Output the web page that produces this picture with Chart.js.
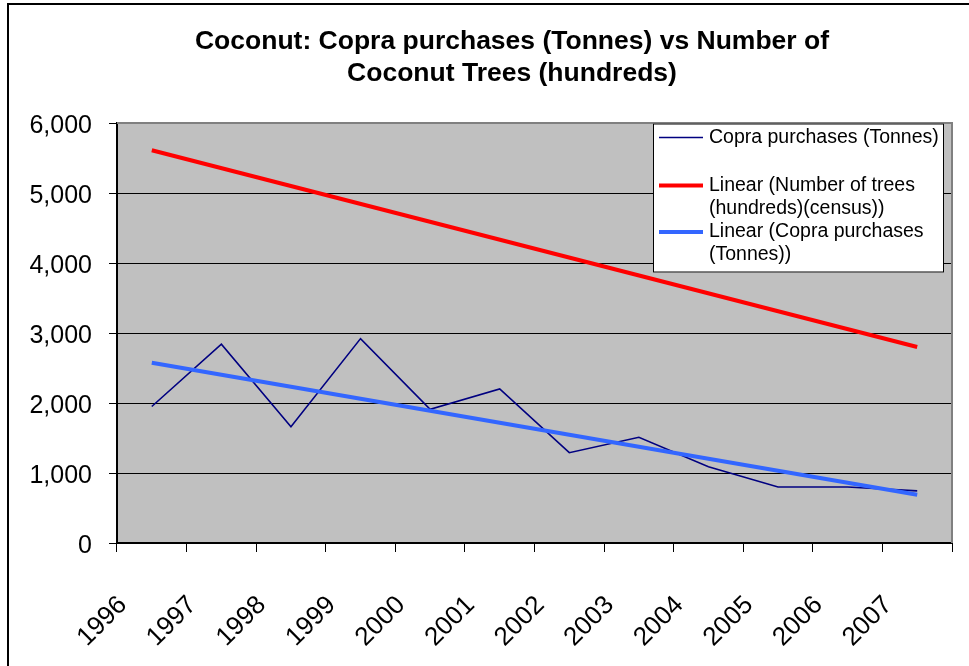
<!DOCTYPE html>
<html>
<head>
<meta charset="utf-8">
<script src="https://cdn.jsdelivr.net/npm/chart.js@4/dist/chart.umd.min.js"></script>
<style>
  html, body { margin: 0; padding: 0; background: #ffffff; }
  canvas { display: block; }
</style>
</head>
<body>
<canvas id="chart" width="969" height="666"></canvas>
<script>
// Years on the category axis
const years = ['1996', '1997', '1998', '1999', '2000', '2001', '2002', '2003', '2004', '2005', '2006', '2007'];

// Copra purchases, tonnes
const copraPurchases = [1950, 2840, 1660, 2920, 1910, 2200, 1290, 1510, 1090, 800, 800, 745];

// Linear trend of the census tree count (hundreds): first and last year
const treesTrend = [5610, null, null, null, null, null, null, null, null, null, null, 2800];

// Linear trend of copra purchases (tonnes): first and last year
const copraTrend = [2575, null, null, null, null, null, null, null, null, null, null, 690];

// Value axis ticks
const yTicks = [0, 1000, 2000, 3000, 4000, 5000, 6000];

const titleLines = ['Coconut: Copra purchases (Tonnes) vs Number of', 'Coconut Trees (hundreds)'];

const legendEntries = [
  { lines: ['Copra purchases (Tonnes)'], color: '#000080', width: 1.5 },
  { lines: ['Linear (Number of trees', '(hundreds)(census))'], color: '#ff0000', width: 4 },
  { lines: ['Linear (Copra purchases', '(Tonnes))'], color: '#3366ff', width: 4 }
];

const FONT = '"Liberation Sans", Arial, Helvetica, sans-serif';

// Grey plot area, its frame, the outer chart border, the title and the boxed legend
const decor = {
  id: 'decor',
  beforeDraw(chart) {
    const { ctx, chartArea: a } = chart;
    ctx.save();
    ctx.fillStyle = '#c0c0c0';
    ctx.fillRect(a.left, a.top, a.right - a.left, a.bottom - a.top);
    ctx.restore();
  },
  beforeDatasetsDraw(chart) {
    const { ctx, chartArea: a } = chart;
    ctx.save();
    ctx.strokeStyle = '#808080';
    ctx.lineWidth = 2;
    ctx.beginPath();
    ctx.moveTo(a.left, a.top);
    ctx.lineTo(a.right, a.top);
    ctx.lineTo(a.right, a.bottom);
    ctx.stroke();
    ctx.restore();
  },
  afterDraw(chart) {
    const { ctx } = chart;
    ctx.save();

    // outer border
    ctx.strokeStyle = '#000000';
    ctx.lineWidth = 2;
    ctx.beginPath();
    ctx.moveTo(8, 666);
    ctx.lineTo(8, 4);
    ctx.lineTo(969, 4);
    ctx.stroke();

    // title
    ctx.fillStyle = '#000000';
    ctx.font = 'bold 26.5px ' + FONT;
    ctx.textAlign = 'center';
    ctx.textBaseline = 'alphabetic';
    ctx.fillText(titleLines[0], 512, 49);
    ctx.fillText(titleLines[1], 512, 81);

    // legend box
    const bx = 653, by = 123.5, bw = 291, bh = 149;
    ctx.fillStyle = '#ffffff';
    ctx.fillRect(bx, by, bw, bh);
    ctx.strokeStyle = '#000000';
    ctx.lineWidth = 1;
    ctx.strokeRect(bx + 0.5, by + 0.5, bw - 1, bh - 1);

    ctx.font = '19.5px ' + FONT;
    ctx.textAlign = 'left';
    ctx.textBaseline = 'middle';
    const rowY = [137.5, 185.5, 232];
    legendEntries.forEach((e, i) => {
      const y = rowY[i];
      ctx.strokeStyle = e.color;
      ctx.lineWidth = e.width;
      ctx.beginPath();
      ctx.moveTo(659, y);
      ctx.lineTo(703, y);
      ctx.stroke();
      ctx.fillStyle = '#000000';
      e.lines.forEach((t, j) => ctx.fillText(t, 709, y + j * 23));
    });
    ctx.restore();
  }
};

new Chart(document.getElementById('chart'), {
  type: 'line',
  data: {
    labels: years,
    datasets: [
      {
        label: 'Copra purchases (Tonnes)',
        data: copraPurchases,
        borderColor: '#000080',
        borderWidth: 1.6,
        pointRadius: 0,
        tension: 0,
        order: 3
      },
      {
        label: 'Linear (Number of trees (hundreds)(census))',
        data: treesTrend,
        borderColor: '#ff0000',
        borderWidth: 4,
        pointRadius: 0,
        spanGaps: true,
        order: 2
      },
      {
        label: 'Linear (Copra purchases (Tonnes))',
        data: copraTrend,
        borderColor: '#3366ff',
        borderWidth: 4,
        pointRadius: 0,
        spanGaps: true,
        order: 1
      }
    ]
  },
  options: {
    responsive: false,
    animation: false,
    events: [],
    layout: { padding: { left: 0, top: 123, right: 17, bottom: 0 } },
    plugins: {
      legend: { display: false },
      title: { display: false },
      tooltip: { enabled: false }
    },
    scales: {
      x: {
        type: 'category',
        offset: true,
        afterFit(scale) {
          scale.height = 123;
          scale.paddingLeft = 0;
          scale.paddingRight = 0;
        },
        grid: {
          offset: true,
          drawOnChartArea: false,
          drawTicks: true,
          tickLength: 9,
          color: '#000000',
          lineWidth: 1
        },
        border: { display: true, color: '#000000', width: 2 },
        ticks: {
          autoSkip: false,
          minRotation: 45,
          maxRotation: 45,
          padding: 38,
          labelOffset: -29,
          color: '#000000',
          font: { family: FONT, size: 26 }
        }
      },
      y: {
        min: 0,
        max: 6000,
        afterFit(scale) {
          scale.width = 117;
          scale.paddingTop = 0;
          scale.paddingBottom = 0;
        },
        afterBuildTicks(scale) { scale.ticks = yTicks.map(v => ({ value: v })); },
        grid: {
          color: (c) => (c.tick && c.tick.value === 6000 ? '#808080' : '#000000'),
          lineWidth: 1,
          drawTicks: true,
          tickLength: 8,
          tickColor: '#000000'
        },
        border: { display: true, color: '#000000', width: 2 },
        ticks: {
          padding: 17,
          labelOffset: 3,
          color: '#000000',
          font: { family: FONT, size: 25 },
          callback: (v) => Number(v).toLocaleString('en-US')
        }
      }
    }
  },
  plugins: [decor]
});
</script>
</body>
</html>
